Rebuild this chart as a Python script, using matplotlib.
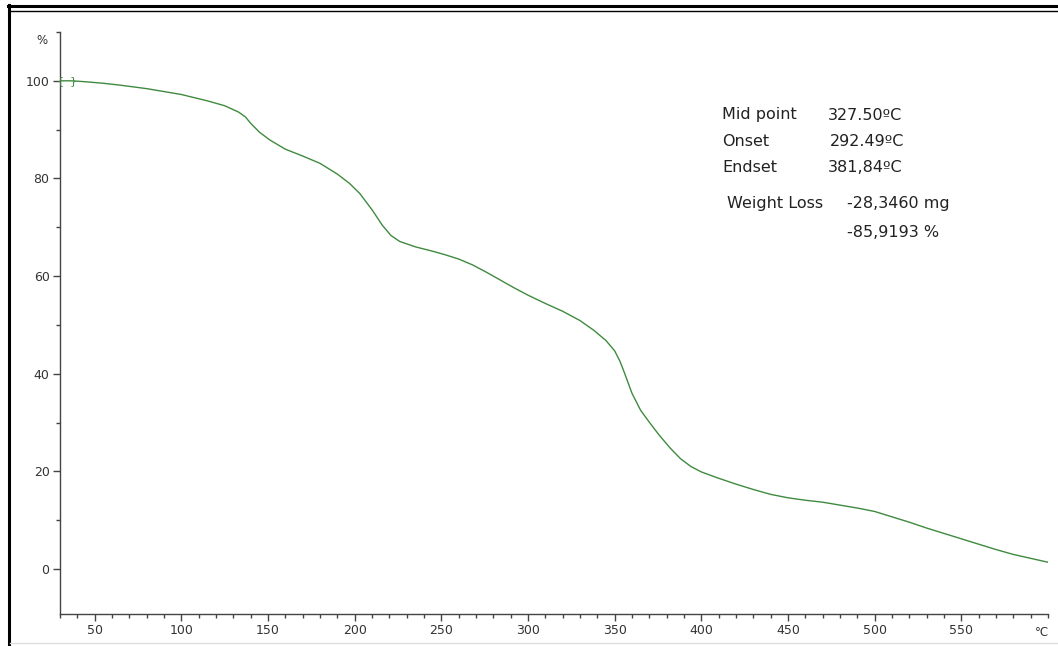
import matplotlib
matplotlib.use("Agg")
import matplotlib.pyplot as plt
from matplotlib.lines import Line2D
from matplotlib.ticker import MultipleLocator

# TGA curve: temperature (°C) vs remaining mass (%)
temperature = [30, 37, 45, 55, 65, 80, 100, 115, 125, 133, 137, 140, 145, 151,
               160, 170, 180, 190, 197, 203, 210, 216, 221, 226, 235, 245, 252,
               260, 268, 276, 284, 292, 300, 310, 320, 330, 338, 345, 350, 353,
               355, 360, 365, 371, 376, 382, 388, 394, 400, 410, 420, 430, 440,
               450, 460, 470, 480, 490, 500, 510, 520, 530, 540, 550, 560, 570,
               580, 590, 600]
mass_pct = [100.0, 100.0, 99.8, 99.5, 99.1, 98.4, 97.2, 95.9, 94.9, 93.6, 92.6,
            91.3, 89.5, 87.9, 86.0, 84.6, 83.1, 80.9, 79.0, 76.9, 73.6, 70.4,
            68.3, 67.1, 66.0, 65.1, 64.4, 63.5, 62.3, 60.8, 59.2, 57.6, 56.1,
            54.4, 52.8, 50.9, 48.9, 46.8, 44.7, 42.6, 40.8, 36.0, 32.5, 29.6,
            27.3, 24.8, 22.6, 21.0, 19.9, 18.6, 17.4, 16.3, 15.3, 14.6, 14.1,
            13.7, 13.1, 12.5, 11.8, 10.7, 9.6, 8.4, 7.3, 6.2, 5.1, 4.0, 3.0,
            2.2, 1.4]

# evaluation range markers
range_start, range_end = 30, 37.5

result_labels = ["Mid point", "Onset", "Endset"]
result_values = ["327.50ºC", "292.49ºC", "381,84ºC"]
loss_label = "Weight Loss"
loss_values = ["-28,3460 mg", "-85,9193 %"]

W, H = 1058, 646
fig = plt.figure(figsize=(W / 100, H / 100), dpi=100)
fig.patch.set_facecolor("white")

ax = fig.add_axes([60 / W, (H - 614) / H, 988 / W, 582 / H])
ax.set_xlim(30, 600)
ax.set_ylim(-9.2, 110)

curve_color = "#3f8a3f"
ax.plot(temperature, mass_pct, color=curve_color, lw=1.0)
ax.text(range_start, 100, "{", color=curve_color, fontsize=8,
        ha="center", va="center")
ax.text(range_end, 100, "}", color=curve_color, fontsize=8,
        ha="center", va="center")

axis_color = "#444444"
for s in ["top", "right"]:
    ax.spines[s].set_visible(False)
for s in ["left", "bottom"]:
    ax.spines[s].set_color(axis_color)
    ax.spines[s].set_linewidth(1.0)

ax.xaxis.set_minor_locator(MultipleLocator(10))
ax.yaxis.set_minor_locator(MultipleLocator(10))
ax.set_xticks([50, 100, 150, 200, 250, 300, 350, 400, 450, 500, 550])
ax.set_yticks([0, 20, 40, 60, 80, 100])
ax.tick_params(axis="both", which="major", length=5, width=1, color=axis_color,
               labelsize=9, labelcolor="#333333", pad=2.5)
ax.tick_params(axis="both", which="minor", length=3, width=1, color=axis_color)

fig.text(42 / W, 1 - 40 / H, "%", fontsize=8.5, color="#333333",
         ha="center", va="center")
fig.text(1042 / W, 1 - 633 / H, "°C", fontsize=8.5, color="#333333",
         ha="center", va="center")

# results block
text_kw = dict(fontsize=11.5, color="#222222", va="center", ha="left")
for i, (lab, val) in enumerate(zip(result_labels, result_values)):
    y = 1 - (115 + 26 * i) / H
    fig.text(722 / W, y, lab, **text_kw)
    fig.text((828 + (2 if i == 1 else 0)) / W, y, val, **text_kw)
fig.text(727 / W, 1 - 203 / H, loss_label, **text_kw)
fig.text(847 / W, 1 - 203 / H, loss_values[0], **text_kw)
fig.text(847 / W, 1 - 233 / H, loss_values[1], **text_kw)

# window frame
fig.add_artist(Line2D([8 / W, 1], [1 - 6 / H, 1 - 6 / H], color="black", lw=2.2))
fig.add_artist(Line2D([10 / W, 1], [1 - 11 / H, 1 - 11 / H], color="black", lw=1.0))
fig.add_artist(Line2D([9 / W, 9 / W], [0, 1 - 5 / H], color="black", lw=2.2))
fig.add_artist(Line2D([10 / W, 1], [1 - 643 / H, 1 - 643 / H], color="#dddddd", lw=1.0))

fig.savefig("out.png", dpi=100, facecolor="white")
